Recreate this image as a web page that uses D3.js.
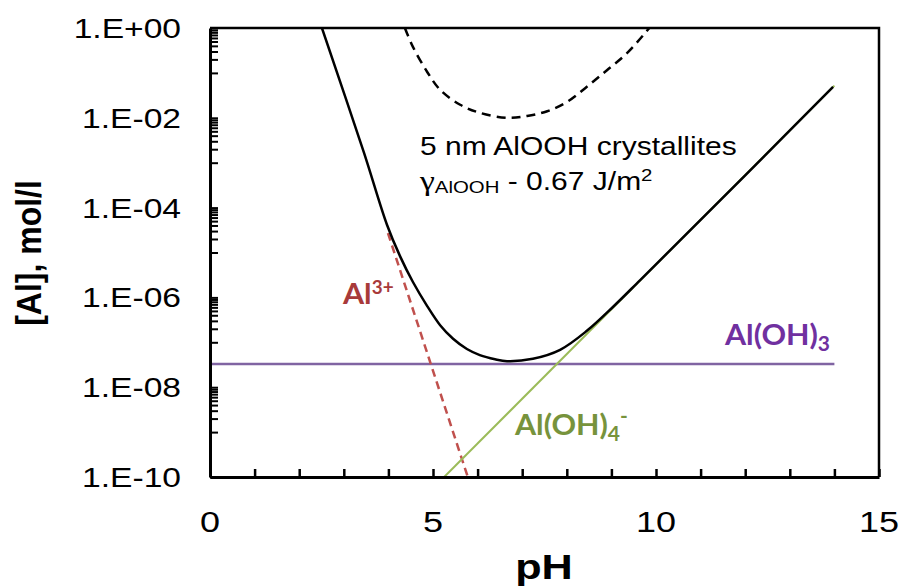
<!DOCTYPE html>
<html>
<head>
<meta charset="utf-8">
<script src="https://cdn.jsdelivr.net/npm/d3@7"></script>
<style>
  body { margin: 0; background: #fff; }
  text { font-family: "Liberation Sans", Arial, sans-serif; }
</style>
</head>
<body>
<div id="chart"></div>
<script>
// pH values and [Al] (mol/l)
var totalPH  = [2.51, 3.45, 3.97, 4.26, 4.55, 4.87, 5.16, 5.45, 5.76, 6.05, 6.39, 6.66, 7.24, 7.85, 8.45, 9.04, 9.64, 10.5, 12.0, 13.97];
var totalAl  = [1, 1.7e-3, 4.1e-5, 8.3e-6, 2.2e-6, 6.4e-7, 2.4e-7, 1.2e-7, 7.1e-8, 5.2e-8, 4.2e-8, 3.8e-8, 4.3e-8, 6.8e-8, 1.8e-7, 6.2e-7, 2.4e-6, 1.7e-5, 5.2e-4, 4.9e-2];
var crystPH  = [4.37, 4.55, 4.87, 5.16, 5.61, 6.05, 6.66, 7.11, 7.56, 8.0, 8.45, 8.90, 9.35, 9.85];
var crystAl  = [1, 0.38, 0.105, 0.042, 0.0195, 0.0129, 0.010, 0.011, 0.014, 0.0224, 0.049, 0.115, 0.275, 1];
var al3PH    = [3.99, 5.78];
var al3Al    = [2.7e-5, 1e-10];
var aloh4PH  = [5.25, 14.0];
var aloh4Al  = [1e-10, 5.2e-2];
var aloh3PH  = [0, 14];
var aloh3Al  = [3.3e-8, 3.3e-8];
var xTicks   = [0, 5, 10, 15];
var yTicks   = [1e0, 1e-2, 1e-4, 1e-6, 1e-8, 1e-10];
var yLabels  = ["1.E+00", "1.E-02", "1.E-04", "1.E-06", "1.E-08", "1.E-10"];

var W = 900, H = 587, sx = 1.2;
var svg = d3.select("#chart").append("svg").attr("width", W).attr("height", H);

var x = d3.scaleLinear().domain([0, 15]).range([210, 879]);
var y = d3.scaleLog().domain([1e-10, 1]).range([477, 28]);

// text that looks a bit wider than plain Arial
function stext(px, py, anchor, size, weight, k) {
    return svg.append("text")
        .attr("transform", "translate(" + px + "," + py + ") scale(" + (k || sx) + ",1)")
        .attr("text-anchor", anchor)
        .style("font-size", size + "px")
        .style("font-weight", weight || "normal");
}
function label(px, py, color) {
    return stext(px, py, "start", 29, "bold", 1.05)
        .style("font-family", "Lato, 'Liberation Sans', sans-serif")
        .attr("fill", color);
}

svg.append("clipPath").attr("id", "plot")
    .append("rect").attr("x", 210).attr("y", 28).attr("width", 669).attr("height", 449);

function pts(a, b) { return a.map(function(v, i) { return [v, b[i]]; }); }
var line = d3.line().x(function(d) { return x(d[0]); }).y(function(d) { return y(d[1]); });
var smooth = d3.line().x(function(d) { return x(d[0]); }).y(function(d) { return y(d[1]); })
    .curve(d3.curveCatmullRom.alpha(0.5));

var plot = svg.append("g").attr("clip-path", "url(#plot)");

plot.append("path").datum(pts(aloh3PH, aloh3Al)).attr("d", line)
    .attr("fill", "none").attr("stroke", "#8064a2").attr("stroke-width", 2.5);
plot.append("path").datum(pts(al3PH, al3Al)).attr("d", line)
    .attr("fill", "none").attr("stroke", "#c0504d").attr("stroke-width", 2.5)
    .attr("stroke-dasharray", "8,5");
plot.append("path").datum(pts(aloh4PH, aloh4Al)).attr("d", line)
    .attr("fill", "none").attr("stroke", "#9bbb59").attr("stroke-width", 2);
plot.append("path").datum(pts(crystPH, crystAl)).attr("d", smooth)
    .attr("fill", "none").attr("stroke", "#000").attr("stroke-width", 2.5)
    .attr("stroke-dasharray", "9,6");
plot.append("path").datum(pts(totalPH, totalAl)).attr("d", smooth)
    .attr("fill", "none").attr("stroke", "#000").attr("stroke-width", 2.5);

// frame
svg.append("path")
    .attr("d", "M" + x(0) + "," + y(1) + "H" + x(15) + "V" + y(1e-10))
    .attr("fill", "none").attr("stroke", "#000").attr("stroke-width", 2.5);

// x axis, ticks pointing inward
var xAxis = svg.append("g").attr("transform", "translate(0," + y(1e-10) + ")")
    .call(d3.axisBottom(x).tickValues(d3.range(0, 16)).tickSizeInner(-8).tickSizeOuter(0).tickFormat(""));
xAxis.select(".domain").attr("stroke-width", 3);
xAxis.selectAll(".tick line").attr("stroke-width", 2.5);

// y axis: major every 2 decades, minor at k*10^odd
var minor = [];
[-9, -7, -5, -3, -1].forEach(function(e) {
    d3.range(1, 10).forEach(function(k) { minor.push(k * Math.pow(10, e)); });
});
var yAxis = svg.append("g").attr("transform", "translate(" + x(0) + ",0)")
    .call(d3.axisLeft(y).tickValues(yTicks.concat(minor)).tickSizeInner(-8).tickSizeOuter(0).tickFormat(""));
yAxis.select(".domain").attr("stroke-width", 3);
yAxis.selectAll(".tick line").attr("stroke-width", 2);

xTicks.forEach(function(t) {
    stext(x(t), 532, "middle", 30).text(t);
});
yTicks.forEach(function(t, i) {
    stext(181, y(t) + 10, "end", 28).text(yLabels[i]);
});

// axis titles
stext(544, 579, "middle", 36, "bold").text("pH");
svg.append("text")
    .attr("transform", "translate(41,253) scale(1.1,1) rotate(-90)")
    .attr("text-anchor", "middle")
    .style("font-size", "32px").style("font-weight", "bold")
    .text("[Al], mol/l");

// annotation
stext(420, 155, "start", 25).text("5 nm AlOOH crystallites");
var g2 = stext(420, 190, "start", 25);
g2.append("tspan").style("font-family", "'Liberation Serif', serif").style("font-size", "28px").text("\u03b3");
g2.append("tspan").style("font-size", "17px").attr("dy", 3).text("AlOOH");
g2.append("tspan").attr("dy", -3).text(" - 0.67 J/m");
g2.append("tspan").style("font-size", "17px").attr("dy", -9).text("2");

// series labels
var l1 = label(343, 304, "#a83a3a");
l1.append("tspan").text("Al");
l1.append("tspan").style("font-size", "18px").attr("dy", -10).text("3+");

var l2 = label(725, 345, "#7030a0");
l2.append("tspan").text("Al(OH)");
l2.append("tspan").style("font-size", "20px").attr("dy", 6).text("3");

var l3 = label(515, 435, "#77933c");
l3.append("tspan").text("Al(OH)");
l3.append("tspan").style("font-size", "20px").attr("dy", 6).text("4");
l3.append("tspan").style("font-size", "20px").attr("dy", -18).text("-");
</script>
</body>
</html>
